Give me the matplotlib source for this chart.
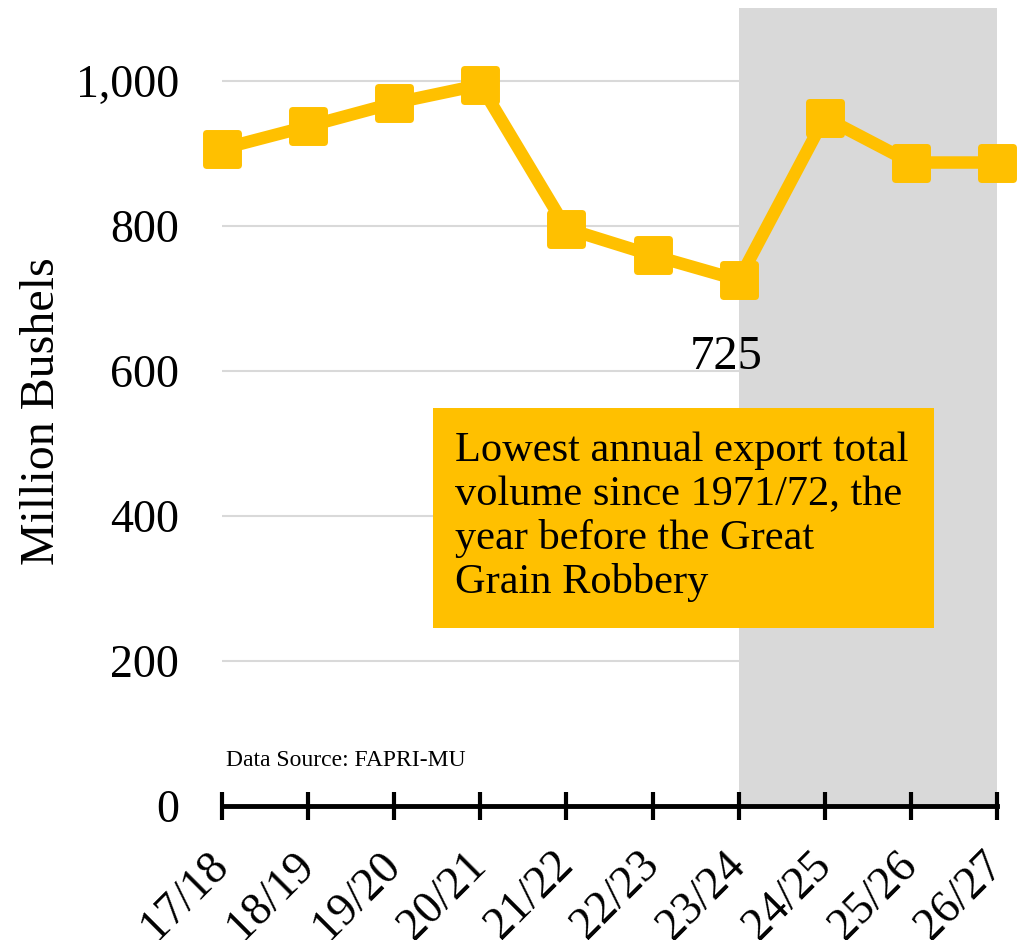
import matplotlib
matplotlib.use("Agg")
import matplotlib.pyplot as plt
from matplotlib.markers import MarkerStyle
from matplotlib.patches import Rectangle

years = ["17/18", "18/19", "19/20", "20/21", "21/22", "22/23", "23/24", "24/25", "25/26", "26/27"]
exports = [906, 937, 969, 994, 796, 759, 725, 949, 887, 887]
yticks = [0, 200, 400, 600, 800, 1000]
ytick_labels = ["0", "200", "400", "600", "800", "1,000"]
low_label = "725"
note_text = "Lowest annual export total\nvolume since 1971/72, the\nyear before the Great\nGrain Robbery"
source_text = "Data Source: FAPRI-MU"

plt.rcParams['font.family'] = ['Liberation Serif', 'DejaVu Serif']
GOLD = "#FFC000"
GRAY = "#D9D9D9"

fig = plt.figure(figsize=(10.31, 9.40), dpi=100)
ax = fig.add_axes([222/1031, (940-806)/940, (997-222)/1031, (806-8)/940])
x = list(range(len(years)))

ax.set_xlim(0, len(years) - 1)
ax.set_ylim(0, 1100)

for yv in yticks[1:]:
    ax.axhline(yv, color=GRAY, lw=1.5, zorder=0)
ax.axvspan(6, 9, color=GRAY, zorder=1, lw=0)

marker = MarkerStyle('s', joinstyle='round')
ax.plot(x, exports, color=GOLD, lw=9, marker=marker, markersize=23,
        markeredgewidth=5, markeredgecolor=GOLD, markerfacecolor=GOLD,
        solid_joinstyle='round', zorder=3, clip_on=False)

ax.set_xticks(x)
ax.set_xticklabels(years, rotation=45, ha='right', va='center',
                   rotation_mode='anchor', fontsize=33)
ax.set_yticks(yticks)
ax.set_yticklabels(ytick_labels, fontsize=33)
ax.tick_params(axis='x', direction='inout', length=20, width=3, pad=28)
ax.tick_params(axis='y', length=0, pad=31)
for s in ['top', 'right', 'left']:
    ax.spines[s].set_visible(False)
ax.spines['bottom'].set_linewidth(3.5)
ax.spines['bottom'].set_zorder(4)
fig.text(42/1031, 1 - 411/940, "Million Bushels", fontsize=34.5, rotation=90,
         ha='center', va='center')

ax.text(5.85, 619, low_label, fontsize=35, ha='center', va='center', zorder=5)
ax.add_patch(Rectangle((2.45, 245), 5.82, 303, facecolor=GOLD, edgecolor='none', zorder=4))
ax.text(2.71, 516, note_text, fontsize=30.5, ha='left', va='top', linespacing=1.17, zorder=5)
ax.text(0.05, 63, source_text, fontsize=17, ha='left', va='center', zorder=5)

fig.savefig("out.png", dpi=100)
